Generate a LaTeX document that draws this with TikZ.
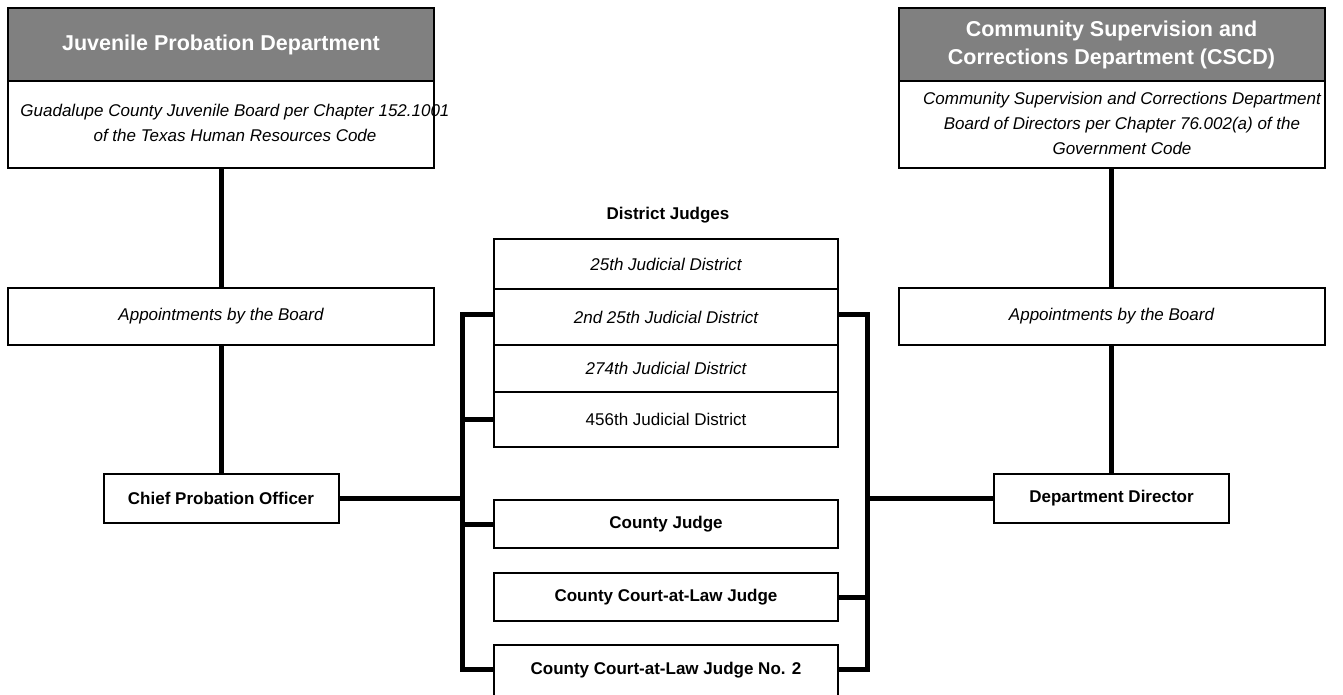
\documentclass[tikz,border=0pt]{standalone}
\usepackage{fontspec}
\setmainfont{Liberation Sans}
\usepackage{tikz}
\usetikzlibrary{positioning}
\usepackage{xcolor}
\definecolor{headgray}{RGB}{128,128,128}

\begin{document}
\begin{tikzpicture}[x=1pt,y=-1pt,
    box/.style={draw,line width=2pt,outer sep=0pt,inner sep=0pt,align=center,
      font=\fontsize{17}{20}\selectfont},
    headbox/.style={box,fill=headgray,text=white,minimum width=426pt,minimum height=73pt,
      font=\bfseries\fontsize{21.5}{28}\selectfont},
    bodybox/.style={box,minimum width=426pt,minimum height=87pt},
    bodytext/.style={align=center,inner sep=0pt,font=\itshape\fontsize{17}{25}\selectfont},
    apptbox/.style={box,minimum width=426pt,minimum height=57pt,font=\itshape\fontsize{17}{20}\selectfont},
    officebox/.style={box,minimum width=235pt,minimum height=49pt,font=\bfseries\fontsize{17}{20}\selectfont},
    judgebox/.style={box,minimum width=344pt},
    conn/.style={line width=5pt}]
        \useasboundingbox (0,0) rectangle (1343,694);
        \clip (0,0) rectangle (1343,694);
        % juvenile side
        \node[headbox] (jpdhead) at (221,44.5) {Juvenile Probation Department};
        \node[bodybox] (jpdbody) at (221,124.5) {};
        \node[bodytext] (jpdtext) at (235,123) {Guadalupe County Juvenile Board per Chapter 152.1001\\of the Texas Human Resources Code};
        \node[apptbox] (jappt) at (221,316.5) {Appointments by the Board};
        \node[officebox] (chief) at (221,498.5) {Chief Probation Officer};
        % cscd side
        \node[headbox] (cscdhead) at (1111.5,44.5) {Community Supervision and\\Corrections Department (CSCD)};
        \node[bodybox] (cscdbody) at (1111.5,124.5) {};
        \node[bodytext] (cscdtext) at (1122,123) {Community Supervision and Corrections Department\\Board of Directors per Chapter 76.002(a) of the\\Government Code};
        \node[apptbox] (cappt) at (1111.5,316.5) {Appointments by the Board};
        \node[officebox] (director) at (1111.5,498.5) {Department Director};
        % judges
        \node[font=\bfseries\fontsize{17}{20}\selectfont] (judges) at (668,215) {District Judges};
        \node[judgebox,minimum height=50pt,font=\itshape\fontsize{17}{20}\selectfont] (d25) at (666,264) {25th Judicial District};
        \node[judgebox,minimum height=56pt,font=\itshape\fontsize{17}{20}\selectfont] (d2) at (666,317) {2nd 25th Judicial District};
        \node[judgebox,minimum height=47pt,font=\itshape\fontsize{17}{20}\selectfont] (d274) at (666,368.5) {274th Judicial District};
        \node[judgebox,minimum height=55pt] (d456) at (666,419.5) {456th Judicial District};
        \node[judgebox,minimum height=48pt,font=\bfseries\fontsize{17}{20}\selectfont] (cj) at (666,524) {County Judge};
        \node[judgebox,minimum height=48pt,font=\bfseries\fontsize{17}{20}\selectfont] (ccl) at (666,597) {County Court-at-Law Judge};
        \node[judgebox,minimum height=56pt,text height=12pt,text depth=10pt,font=\bfseries\fontsize{17}{20}\selectfont] (ccl2) at (666,673) {County Court-at-Law Judge No. 2};
        \coordinate (lbus) at (462,0);
        \coordinate (rbus) at (867,0);
        % connectors
        \draw[conn] (jpdbody.south) -- (jappt.north);
        \draw[conn] (jappt.south) -- (chief.north);
        \draw[conn] (cscdbody.south) -- (cappt.north);
        \draw[conn] (cappt.south) -- (director.north);
        \draw[conn] ([yshift=3pt]d2.west) -- ([yshift=3pt]d2.west -| lbus) |- ([yshift=4pt]ccl2.west);
        \draw[conn] (d456.west) -- (d456.west -| lbus);
        \draw[conn] (cj.west) -- (cj.west -| lbus);
        \draw[conn] (chief.east) -- (chief.east -| lbus);
        \draw[conn] ([yshift=3pt]d2.east) -- ([yshift=3pt]d2.east -| rbus) |- ([yshift=4pt]ccl2.east);
        \draw[conn] (ccl.east) -- (ccl.east -| rbus);
        \draw[conn] (director.west) -- (director.west -| rbus);
      \end{tikzpicture}
\end{document}
